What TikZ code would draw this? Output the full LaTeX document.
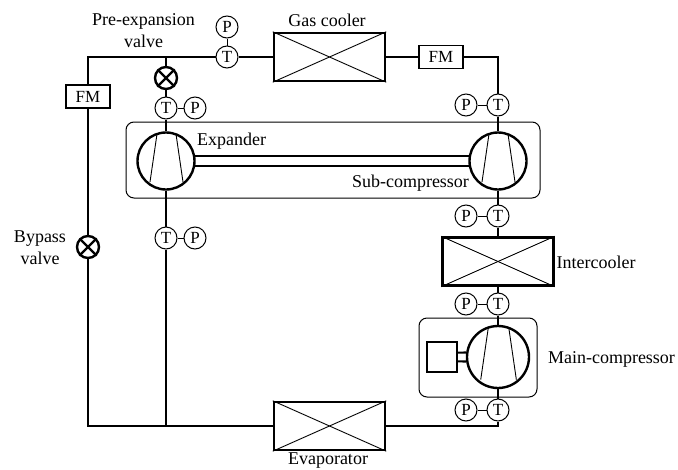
\documentclass[tikz,border=0pt]{standalone}
\usepackage{fontspec}
\setmainfont{Liberation Serif}
\usetikzlibrary{positioning}

\tikzset{
    pipe/.style={line width=2.1pt},
    link/.style={line width=1pt},
    blade/.style={line width=0.9pt},
    sensor/.style={draw, circle, fill=white, line width=1pt, minimum size=22pt, inner sep=0pt, font=\fontsize{17}{20}\selectfont},
    valve/.style={draw, circle, fill=white, line width=2.4pt, minimum size=22pt, inner sep=0pt},
    meter/.style={draw, fill=white, line width=1.1pt, minimum width=44pt, minimum height=23pt, inner sep=0pt, font=\fontsize{17}{20}\selectfont},
    cooler/.style={draw, line width=2.4pt, minimum width=111pt, minimum height=48pt, inner sep=0pt},
    compressor/.style={draw, circle, fill=white, line width=2.4pt, minimum size=57pt, inner sep=0pt},
    casing/.style={draw, rounded corners=8pt, line width=1pt, inner sep=0pt},
    tag/.style={font=\fontsize{18}{22}\selectfont, align=center, inner sep=0pt}
}

\begin{document}
\begin{tikzpicture}[x=1pt, y=-1pt]
    \useasboundingbox (0,0) rectangle (678,469);

    % casings
    \node[casing, minimum width=414pt, minimum height=76pt] (subcase) at (333,160) {};
    \node[casing, minimum width=118pt, minimum height=79pt] (maincase) at (478,357.5) {};

    % components
    \node[cooler] (gascooler) at (329.5,57) {};
    \node[cooler] (intercooler) at (498,261.5) {};
    \node[cooler] (evaporator) at (329.5,426) {};
    \node[compressor] (expander) at (166,161) {};
    \node[compressor] (subcomp) at (498,161) {};
    \node[compressor, minimum size=62pt] (maincomp) at (498,357) {};
    \node[draw, line width=2.2pt, minimum size=30pt, inner sep=0pt] (motor) at (442,357) {};
    \node[valve] (preexp) at (166,78) {};
    \node[valve] (bypass) at (88,247) {};
    \node[meter] (fmleft) at (88,96.5) {FM};
    \node[meter] (fmright) at (441,57) {FM};

    % sensors
    \node[sensor] (t1) at (227,57) {T};
    \node[sensor, above=7pt of t1] (p1) {P};
    \node[sensor] (t2) at (166,108) {T};
    \node[sensor, right=6pt of t2] (p2) {P};
    \node[sensor] (t3) at (166,238) {T};
    \node[sensor, right=6pt of t3] (p3) {P};
    \node[sensor] (t4) at (498,105) {T};
    \node[sensor, left=9pt of t4] (p4) {P};
    \node[sensor] (t5) at (498,216) {T};
    \node[sensor, left=9pt of t5] (p5) {P};
    \node[sensor] (t6) at (498,304) {T};
    \node[sensor, left=9pt of t6] (p6) {P};
    \node[sensor] (t7) at (498,410) {T};
    \node[sensor, left=9pt of t7] (p7) {P};

    \coordinate (jtop) at (166,57);
    \coordinate (jbot) at (166,426);

    % pipes
    \draw[pipe] (t1) -- (gascooler);
    \draw[pipe] (gascooler) -- (fmright);
    \draw[pipe] (fmright) -| (t4);
    \draw[pipe] (t4) -- (subcomp);
    \draw[pipe] (subcomp) -- (t5);
    \draw[pipe] (t5) -- (intercooler);
    \draw[pipe] (intercooler) -- (t6);
    \draw[pipe] (t6) -- (maincomp);
    \draw[pipe] (maincomp) -- (t7);
    \draw[pipe] (evaporator) -| (t7);
    \draw[pipe] (t1) -| (fmleft);
    \draw[pipe] (fmleft) -- (bypass);
    \draw[pipe] (bypass) |- (evaporator);
    \draw[pipe] (jtop) -- (preexp);
    \draw[pipe] (preexp) -- (t2);
    \draw[pipe] (t2) -- (expander);
    \draw[pipe] (expander) -- (t3);
    \draw[pipe] (t3) -- (jbot);

    % shafts
    \draw[pipe] (expander.10) -- (subcomp.170);
    \draw[pipe] (expander.-10) -- (subcomp.190);
    \draw[pipe] ([yshift=4.4pt]motor.east) -- (maincomp.172);
    \draw[pipe] ([yshift=-4.4pt]motor.east) -- (maincomp.188);

    % sensor links
    \foreach \a/\b in {t1/p1, t2/p2, t3/p3, t4/p4, t5/p5, t6/p6, t7/p7}
        \draw[link] (\a) -- (\b);

    % crosses
    \foreach \c in {gascooler, intercooler, evaporator} {
        \draw[blade] (\c.north west) -- (\c.south east);
        \draw[blade] (\c.south west) -- (\c.north east);
    }
    \foreach \c in {preexp, bypass} {
        \draw[line width=2.2pt] (\c.45) -- (\c.225);
        \draw[line width=2.2pt] (\c.135) -- (\c.-45);
    }

    % blades
    \foreach \c/\s in {expander/1, subcomp/1, maincomp/1.08}
        \draw[blade, shift={(\c)}, scale=\s] (-9,-27) -- (-16,21) (10,-27) -- (17,21);

    % labels
    \node[tag] (lpreexp) at (143.5,31) {Pre-expansion\\valve};
    \node[tag] (lgas) at (327,20) {Gas cooler};
    \node[tag] (lexp) at (231.5,141) {Expander};
    \node[tag] (lsub) at (410.5,183) {Sub-compressor};
    \node[tag] (lbypass) at (40,248) {Bypass\\valve};
    \node[tag] (linter) at (596,262) {Intercooler};
    \node[tag] (lmain) at (611.5,359) {Main-compressor};
    \node[tag] (levap) at (328,461) {Evaporator};
\end{tikzpicture}
\end{document}
